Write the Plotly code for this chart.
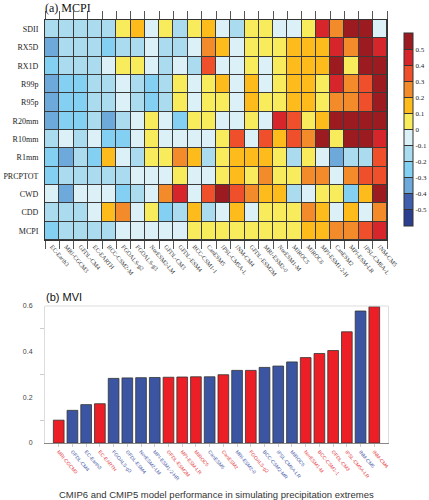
import plotly.graph_objects as go

# ---------------- data ----------------
indices = ["SDII", "RX5D", "RX1D", "R99p", "R95p", "R20mm", "R10mm", "R1mm",
           "PRCPTOT", "CWD", "CDD", "MCPI"]

heat_models = ["EC-Earth3", "MRI-CGCM3", "GFDL-CM4", "EC-EARTH", "BCC-CSM2-M",
               "FGOALS-g2", "FGOALS-g3", "NorESM2-LM", "GFDL-CM3", "GFDL-ESM4",
               "BCC-CSM1-1", "CanESM5", "IPSL-CM5A-L", "INM-CM4", "GFDL-ESM2M",
               "MRI-ESM2-0", "NorESM1-M", "MIROC5", "MIROC6", "MPI-ESM1-2-H",
               "CanESM2", "MPI-ESM-LR", "IPSL-CM6A-L", "INM-CM5"]

sdii    = [-0.15, -0.15, -0.15, -0.15, -0.15, 0.05, 0.15, -0.05, 0.05, -0.15, 0.05, 0.15,
           -0.05, -0.15, 0.05, 0.05, -0.05, -0.05, 0.05, 0.45, 0.25, 0.55, 0.55, -0.05]
rx5d    = [-0.35, -0.15, -0.15, -0.15, -0.25, -0.15, -0.15, -0.05, -0.15, -0.15, -0.05, 0.25,
           0.15, -0.05, 0.05, 0.05, 0.05, 0.15, 0.15, 0.15, 0.45, 0.25, 0.55, 0.45]
rx1d    = [-0.25, -0.15, -0.15, -0.15, -0.05, 0.05, 0.05, -0.05, -0.15, -0.05, -0.15, 0.35,
           -0.05, -0.05, 0.05, -0.05, 0.05, 0.15, 0.15, 0.15, 0.55, 0.05, 0.55, 0.55]
r99p    = [-0.35, -0.25, -0.25, -0.15, -0.15, -0.05, -0.15, -0.25, -0.15, 0.05, -0.05, 0.05,
           0.15, -0.05, 0.15, -0.05, 0.05, 0.15, 0.15, 0.05, 0.45, 0.25, 0.35, 0.55]
r95p    = [-0.35, -0.25, -0.25, -0.15, -0.15, -0.05, -0.15, -0.25, -0.15, 0.05, -0.05, 0.05,
           0.05, -0.05, 0.15, 0.05, 0.05, 0.15, 0.15, 0.05, 0.25, 0.25, 0.35, 0.55]
r20mm   = [-0.35, -0.25, -0.25, -0.15, -0.35, -0.15, -0.05, 0.05, -0.05, -0.25, 0.05, 0.05,
           -0.05, -0.05, 0.05, -0.05, 0.45, 0.35, 0.05, 0.15, 0.55, 0.55, 0.55, 0.55]
r10mm   = [-0.15, -0.05, -0.15, -0.05, -0.25, -0.25, -0.05, 0.05, -0.05, -0.05, -0.05, -0.05,
           0.05, 0.35, -0.05, 0.35, 0.15, 0.35, 0.25, 0.55, 0.05, 0.55, 0.55, 0.45]
r1mm    = [-0.25, -0.35, -0.15, -0.25, 0.15, -0.05, -0.15, 0.05, 0.05, 0.25, 0.15, -0.15,
           0.05, 0.15, 0.15, 0.15, 0.05, -0.15, 0.05, -0.05, -0.35, -0.15, -0.15, 0.35]
prcptot = [-0.25, -0.15, -0.15, -0.15, -0.15, -0.15, -0.05, -0.05, -0.05, 0.05, -0.05, -0.05,
           0.05, 0.15, 0.05, 0.25, 0.05, 0.05, 0.25, 0.25, -0.05, 0.25, 0.35, 0.35]
cwd     = [-0.05, -0.35, -0.05, -0.05, -0.05, -0.25, -0.15, -0.05, 0.25, 0.45, -0.05, 0.35,
           0.55, 0.35, 0.25, 0.15, 0.15, -0.15, -0.05, 0.05, 0.05, -0.25, 0.15, 0.55]
cdd     = [-0.15, -0.15, -0.15, -0.05, 0.15, 0.25, -0.05, 0.05, -0.25, -0.15, 0.15, -0.15,
           -0.05, 0.15, -0.05, 0.05, 0.05, 0.05, 0.25, 0.15, -0.05, 0.15, -0.05, 0.25]
mcpi    = [-0.25, -0.15, -0.15, -0.15, -0.15, -0.05, -0.05, -0.05, -0.05, -0.05, 0.05, 0.05,
           0.05, 0.05, 0.05, 0.05, 0.05, 0.05, 0.15, 0.15, 0.25, 0.25, 0.35, 0.45]

bin_colors = ["#2b3e8f", "#3f5fae", "#6ea9dc", "#84d0f2", "#abdbee", "#dcf0f7",
              "#f9ec5c", "#fdbc1b", "#f48b2a", "#ef4f2a", "#d6262b", "#9c1b20"]
cbar_ticks = [-0.5, -0.4, -0.3, -0.2, -0.1, 0, 0.1, 0.2, 0.3, 0.4, 0.5]
cbar_text = ["-0.5", "-0.4", "-0.3", "-0.2", "-0.1", "0", "0.1", "0.2", "0.3", "0.4", "0.5"]

bar_models = ["MRI-CGCM3", "GFDL-CM4", "EC-Earth3", "EC-EARTH", "FGOALS-g3", "GFDL-ESM4",
              "NorESM2-LM", "MPI-ESM1-2-HR", "GFDL-ESM2M", "MPI-ESM-LR", "MIROC5", "CanESM5",
              "CanESM2", "MRI-ESM2-0", "FGOALS-g2", "BCC-CSM2-MR", "IPSL-CM6A-LR", "MIROC6",
              "NorESM1-M", "BCC-CSM1-1", "GFDL-CM3", "IPSL-CM5A-LR", "INM-CM5", "INM-CM4"]
mvi = [0.100, 0.143, 0.168, 0.172, 0.283, 0.285, 0.286, 0.287, 0.288, 0.289, 0.290, 0.290,
       0.299, 0.318, 0.318, 0.331, 0.337, 0.355, 0.374, 0.392, 0.405, 0.487, 0.578, 0.597]
cmip = ["CMIP5", "CMIP6", "CMIP6", "CMIP5", "CMIP6", "CMIP6", "CMIP6", "CMIP6", "CMIP5",
        "CMIP5", "CMIP5", "CMIP6", "CMIP5", "CMIP6", "CMIP5", "CMIP6", "CMIP6", "CMIP6",
        "CMIP5", "CMIP5", "CMIP5", "CMIP5", "CMIP6", "CMIP5"]
cmip_colors = {"CMIP6": "#3b55a3", "CMIP5": "#ec1f26"}
label_colors = {"CMIP6": "#4f63aa", "CMIP5": "#e5474c"}

# ---------------- figure ----------------
W, H = 429, 500
z = [sdii, rx5d, rx1d, r99p, r95p, r20mm, r10mm, r1mm, prcptot, cwd, cdd, mcpi]

n = len(bin_colors)
cscale = []
for i, c in enumerate(bin_colors):
    cscale.append([i / n, c])
    cscale.append([(i + 1) / n, c])

serif = "Liberation Serif, Times New Roman, serif"
sans = "Liberation Sans, Arial, sans-serif"

fig = go.Figure()
fig.add_trace(go.Heatmap(
    z=z, x=heat_models, y=indices, xaxis="x", yaxis="y",
    colorscale=cscale, zmin=-0.6, zmax=0.6, xgap=1, ygap=1,
    colorbar=dict(
        x=404 / W, xanchor="left", xref="paper", xpad=0,
        y=1 - 33 / H, yanchor="top", ypad=0, len=193 / H, lenmode="fraction",
        thickness=9, outlinewidth=1, outlinecolor="#333",
        tickvals=cbar_ticks, ticktext=cbar_text, ticks="inside", ticklen=9,
        tickcolor="#333", tickwidth=1,
        tickfont=dict(family=serif, size=7, color="#222"),
    ),
    hoverinfo="skip",
))

fig.add_trace(go.Bar(
    x=bar_models, y=mvi, xaxis="x2", yaxis="y2",
    marker=dict(color=[cmip_colors[c] for c in cmip],
                line=dict(color="#333", width=0.8)),
    width=0.78, showlegend=False, hoverinfo="skip",
))

bar_ticktext = ['<span style="color:%s">%s</span>' % (label_colors[c], m)
                for m, c in zip(bar_models, cmip)]

fig.update_layout(
    width=W, height=H,
    margin=dict(l=0, r=0, t=0, b=0, autoexpand=False),
    paper_bgcolor="white", plot_bgcolor="white",
    showlegend=False,
    xaxis=dict(domain=[45 / W, 387 / W], anchor="y", type="category", automargin=False,
               tickson="boundaries", ticks="outside", ticklen=8, tickcolor="#555",
               tickwidth=1, showline=True, linecolor="#333", mirror="ticks",
               tickangle=50, tickfont=dict(family=serif, size=6, color="#333"),
               showgrid=False, zeroline=False),
    yaxis=dict(domain=[1 - 240 / H, 1 - 20 / H], anchor="x", type="category",
               automargin=False,
               autorange="reversed", showline=True, linecolor="#333", mirror=True,
               ticks="", tickfont=dict(family=serif, size=8, color="#222"),
               showgrid=False, zeroline=False, ticklabelstandoff=4),
    xaxis2=dict(domain=[45 / W, 388 / W], anchor="y2", type="category", automargin=False,
                range=[-1, 24], ticks="outside", ticklen=3, tickcolor="#ccc",
                showline=True, linecolor="#888", linewidth=1,
                tickangle=50, tickfont=dict(family=sans, size=5),
                tickvals=bar_models, ticktext=bar_ticktext,
                showgrid=False, zeroline=False),
    yaxis2=dict(domain=[1 - 443 / H, 1 - 306 / H], anchor="x2", automargin=False,
                range=[0, 0.6], tickvals=[0, 0.2, 0.4, 0.6],
                ticktext=["0", "0.2", "0.4", "0.6"], ticks="outside", ticklen=4,
                tickcolor="white", showline=True, linecolor="#ddd", mirror=True,
                ticklabelstandoff=6,
                minor=dict(tickvals=[0.1, 0.3, 0.5], ticks="outside", ticklen=4,
                           tickcolor="#ccc", showgrid=False),
                tickfont=dict(family=sans, size=7, color="#444"),
                showgrid=False, zeroline=False),
    shapes=[
        dict(type="rect", xref="x domain", yref="y domain", x0=0, x1=1, y0=0, y1=1,
             fillcolor="#3a3a3a", line=dict(width=0), layer="below"),
        dict(type="line", xref="x2 domain", yref="y2 domain", x0=0, x1=1, y0=1, y1=1,
             line=dict(color="#ddd", width=1)),
    ],
    annotations=[
        dict(text="(a) MCPI", x=43 / W, y=1 - 8 / H, xref="paper", yref="paper",
             xanchor="left", yanchor="middle", showarrow=False,
             font=dict(family=serif, size=12, color="#111")),
        dict(text="(b) MVI", x=44 / W, y=1 - 297 / H, xref="paper", yref="paper",
             xanchor="left", yanchor="middle", showarrow=False,
             font=dict(family=sans, size=11, color="#111")),
        dict(text="CMIP6 and CMIP5 model performance in simulating precipitation extremes",
             x=216 / W, y=1 - 494 / H, xref="paper", yref="paper",
             xanchor="center", yanchor="middle", showarrow=False,
             font=dict(family=sans, size=9.5, color="#333")),
    ],
)

fig.write_html("out.html", config={"displayModeBar": False},
               post_script="document.body.style.margin='0';document.body.style.overflow='hidden';")
